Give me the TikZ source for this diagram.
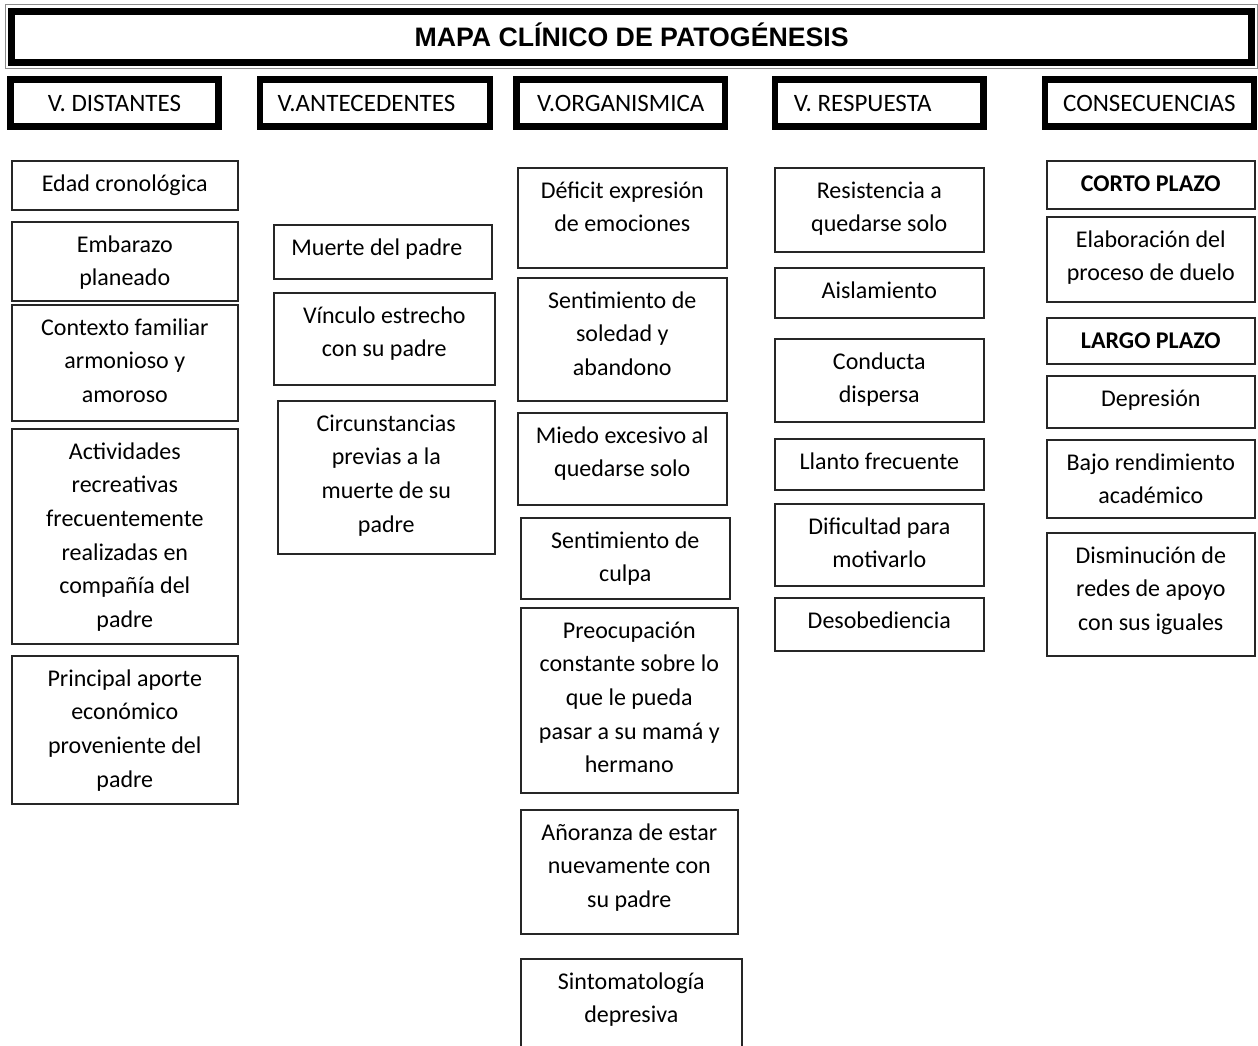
\documentclass[tikz,border=0pt]{standalone}
\usepackage{fontspec}
\setmainfont{Carlito}
\newfontfamily\titlefont{Liberation Sans}

% cell text: 24pt Carlito, 1.15 line spacing
\newcommand\celltext{\fontsize{24pt}{33.6pt}\selectfont}

\tikzset{
  cell/.style={draw=black!85, line width=1.6pt, inner sep=0pt, anchor=north west},
  headbox/.style={draw=black, line width=6.5pt, inner sep=0pt,
    text height=18pt, text depth=0pt, font=\fontsize{25pt}{30pt}\selectfont},
  titlebox/.style={draw=black, line width=6.7pt, inner sep=0pt,
    text height=19.4pt, text depth=0pt, font=\titlefont\bfseries\fontsize{26.7pt}{30pt}\selectfont},
  titlerim/.style={draw=black!45, line width=1pt},
}

% \cellbox{name}{x1}{y1}{x2}{y2}{text}: box with top-aligned, centred lines
\newcommand\cellbox[6]{%
  \node[cell] (#1) at (#2,#3)
    {\parbox[b][\dimexpr #5pt-#3pt\relax][t]{\dimexpr #4pt-#2pt\relax}%
      {\celltext\centering\rule{0pt}{30.5pt}#6\par}};}

\begin{document}
\begin{tikzpicture}[x=1pt,y=-1pt]
\useasboundingbox[fill=white] (0,0) rectangle (1258,1046);

% title
\draw[titlerim] (5,5) rectangle (1257,68.3);
\node[titlebox, minimum width=1239.8pt, minimum height=51pt] (title) at (631.6,37.2)
  {MAPA CLÍNICO DE PATOGÉNESIS};

% column headers
\node[headbox, minimum width=207.6pt, minimum height=47.4pt] (h1) at (114.5,103) {V. DISTANTES};
\node[headbox, minimum width=230pt, minimum height=47.4pt] (h2) at (375,103) {V.ANTECEDENTES\kern17pt};
\node[headbox, minimum width=208.3pt, minimum height=47.4pt] (h3) at (620.8,103) {V.ORGANISMICA};
\node[headbox, minimum width=208.3pt, minimum height=47.4pt] (h4) at (879.2,103) {V. RESPUESTA\kern33pt};
\node[headbox, minimum width=208.7pt, minimum height=47.4pt] (h5) at (1149.4,103) {CONSECUENCIAS};

% V. distantes
\cellbox{d1}{11}{160}{237}{209}{Edad cronológica}
\cellbox{d2}{11}{221}{237}{300}{Embarazo\\planeado}
\cellbox{d3}{11}{304}{237}{420}{Contexto familiar\\armonioso y\\amoroso}
\cellbox{d4}{11}{428}{237}{643}{Actividades\\recreativas\\frecuentemente\\realizadas en\\compañía del\\padre}
\cellbox{d5}{11}{655}{237}{803}{Principal aporte\\económico\\proveniente del\\padre}

% V. antecedentes
\cellbox{a1}{273}{224}{491}{278}{Muerte del padre\kern12pt}
\cellbox{a2}{273}{292}{494}{384}{Vínculo estrecho\\con su padre}
\cellbox{a3}{277}{400}{494}{553}{Circunstancias\\previas a la\\muerte de su\\padre}

% V. organísmica
\cellbox{o1}{517}{167}{726}{267}{Déficit expresión\\de emociones}
\cellbox{o2}{517}{277}{726}{400}{Sentimiento de\\soledad y\\abandono}
\cellbox{o3}{517}{412}{726}{504}{Miedo excesivo al\\quedarse solo}
\cellbox{o4}{520}{517}{729}{598}{Sentimiento de\\culpa}
\cellbox{o5}{520}{607}{737}{792}{Preocupación\\constante sobre lo\\que le pueda\\pasar a su mamá y\\hermano}
\cellbox{o6}{520}{809}{737}{933}{Añoranza de estar\\nuevamente con\\su padre}
\cellbox{o7}{520}{958}{741}{1054}{Sintomatología\\depresiva}

% V. respuesta
\cellbox{r1}{774}{167}{983}{251}{Resistencia a\\quedarse solo}
\cellbox{r2}{774}{267}{983}{317}{Aislamiento}
\cellbox{r3}{774}{338}{983}{421}{Conducta\\dispersa}
\cellbox{r4}{774}{438}{983}{489}{Llanto frecuente}
\cellbox{r5}{774}{503}{983}{585}{Dificultad para\\motivarlo}
\cellbox{r6}{774}{597}{983}{650}{Desobediencia}

% consecuencias
\cellbox{c1}{1046}{160}{1254}{208}{\bfseries CORTO PLAZO}
\cellbox{c2}{1046}{216}{1254}{301}{Elaboración del\\proceso de duelo}
\cellbox{c3}{1046}{317}{1254}{363}{\bfseries LARGO PLAZO}
\cellbox{c4}{1046}{375}{1254}{427}{Depresión}
\cellbox{c5}{1046}{439}{1254}{517}{Bajo rendimiento\\académico}
\cellbox{c6}{1046}{532}{1254}{655}{Disminución de\\redes de apoyo\\con sus iguales}
\end{tikzpicture}
\end{document}
